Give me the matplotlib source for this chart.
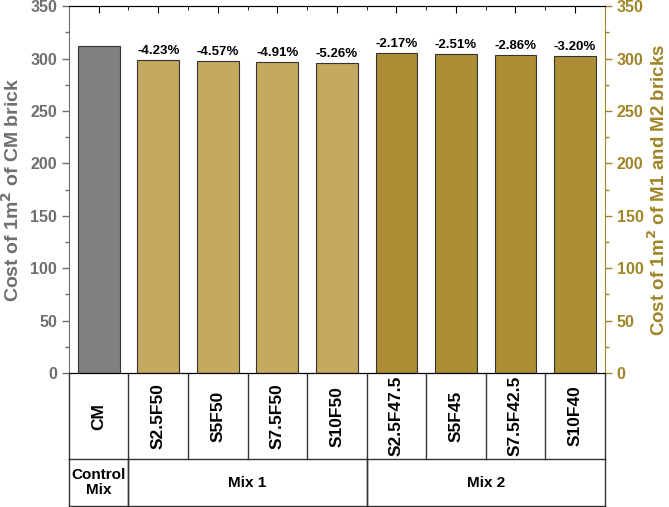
import matplotlib.pyplot as plt
import matplotlib.transforms as mtransforms
from matplotlib.ticker import MultipleLocator

plt.rcParams['font.family'] = ['Liberation Sans', 'DejaVu Sans']
plt.rcParams['font.weight'] = 'bold'

# data
mixes = ['CM', 'S2.5F50', 'S5F50', 'S7.5F50', 'S10F50',
         'S2.5F47.5', 'S5F45', 'S7.5F42.5', 'S10F40']
costs = [312.0, 298.8, 297.7, 296.7, 295.6, 305.2, 304.2, 303.1, 302.0]
changes = ['', '-4.23%', '-4.57%', '-4.91%', '-5.26%',
           '-2.17%', '-2.51%', '-2.86%', '-3.20%']
groups = [('Control\nMix', 0, 0), ('Mix 1', 1, 4), ('Mix 2', 5, 8)]

GREY = '#808080'
LIGHT_GOLD = '#c4a95f'
DARK_GOLD = '#ac8e34'
AXIS_GREY = '#6e6e6e'
AXIS_GOLD = '#a08526'
colors = [GREY] + [LIGHT_GOLD] * 4 + [DARK_GOLD] * 4

fig = plt.figure(figsize=(6.69, 5.07), dpi=100)
ax = fig.add_axes([0.103, 0.264, 0.801, 0.724])
x = list(range(len(mixes)))
ax.bar(x, costs, width=0.7, color=colors, edgecolor='#333333', linewidth=0.8)

for xi, val, lab in zip(x, costs, changes):
    if lab:
        ax.text(xi, val + 3, lab, ha='center', va='bottom', fontsize=9.5, fontweight='bold')

ax.set_xlim(-0.5, len(mixes) - 0.5)
ax.set_ylim(0, 350)
ax.yaxis.set_major_locator(MultipleLocator(50))
ax.yaxis.set_minor_locator(MultipleLocator(25))
ax.set_ylabel('Cost of 1m$^\\mathbf{2}$ of CM brick', fontsize=14, fontweight='bold',
              color=AXIS_GREY, labelpad=5)
ax.tick_params(axis='y', which='major', length=5, width=1, colors=AXIS_GREY, labelsize=11.5)
ax.tick_params(axis='y', which='minor', length=3, width=1, colors=AXIS_GREY)
ax.spines['left'].set_color(AXIS_GREY)
ax.spines['right'].set_visible(False)

# top ticks at bar centres and between bars, no bottom labels
ax.set_xticks(x)
ax.set_xticks([i + 0.5 for i in x[:-1]], minor=True)
ax.tick_params(axis='x', which='both', bottom=False, labelbottom=False, top=True, direction='in')
ax.tick_params(axis='x', which='major', length=5)
ax.tick_params(axis='x', which='minor', length=3)

ax2 = ax.twinx()
ax2.set_ylim(0, 350)
ax2.yaxis.set_major_locator(MultipleLocator(50))
ax2.yaxis.set_minor_locator(MultipleLocator(25))
ax2.set_ylabel('Cost of 1m$^\\mathbf{2}$ of M1 and M2 bricks', fontsize=13.5, fontweight='bold',
               color=AXIS_GOLD, labelpad=3)
ax2.tick_params(axis='y', which='major', length=5, width=1, colors=AXIS_GOLD, labelsize=11.5)
ax2.tick_params(axis='y', which='minor', length=3, width=1, colors=AXIS_GOLD)
ax2.spines['right'].set_color(AXIS_GOLD)
ax2.spines['left'].set_visible(False)
for lbl in ax.get_yticklabels() + ax2.get_yticklabels():
    lbl.set_fontweight('bold')

# table under the axes
trans = mtransforms.blended_transform_factory(ax.transData, ax.transAxes)
r1 = -0.234
r2 = -0.362
lk = dict(transform=trans, color='#333333', lw=1, clip_on=False)
ax.plot([-0.5, len(mixes) - 0.5], [r1, r1], **lk)
ax.plot([-0.5, len(mixes) - 0.5], [r2, r2], **lk)
for i in range(len(mixes) + 1):
    ax.plot([i - 0.5, i - 0.5], [0, r1], **lk)
for name, a, b in groups:
    ax.plot([a - 0.5, a - 0.5], [r1, r2], **lk)
    ax.plot([b + 0.5, b + 0.5], [r1, r2], **lk)
    ax.text((a + b) / 2, (r1 + r2) / 2, name, transform=trans, ha='center', va='center',
            fontsize=11, fontweight='bold', linespacing=1.1)
for xi, name in zip(x, mixes):
    ax.text(xi, r1 / 2, name, transform=trans, ha='center', va='center',
            rotation=90, fontsize=12.5, fontweight='bold')

fig.savefig('out.png', dpi=100)
